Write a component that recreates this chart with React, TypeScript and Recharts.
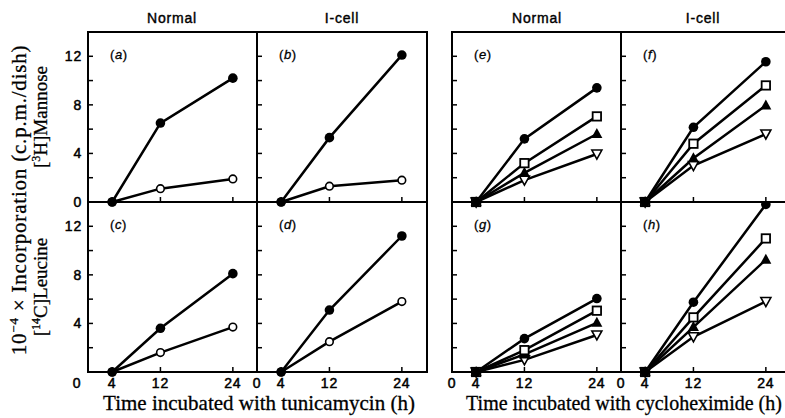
import { LineChart, Line, XAxis, YAxis } from 'recharts'

// time points (h)
const hours = [4, 12, 24]
const xTicks = [0, 4, 12, 24]
const yTicks = [0, 2, 4, 6, 8, 10, 12]

// tunicamycin: filled = control, open = + tunicamycin
const aFilled = [0, 6.5, 10.2]
const aOpen = [0, 1.1, 1.9]
const bFilled = [0, 5.3, 12.1]
const bOpen = [0, 1.3, 1.8]
const cFilled = [0, 3.6, 8.1]
const cOpen = [0, 1.6, 3.7]
const dFilled = [0, 5.1, 11.2]
const dOpen = [0, 2.5, 5.8]

// cycloheximide: circle, square, triangle up, triangle down
const eCircle = [0, 5.2, 9.4]
const eSquare = [0, 3.2, 7.05]
const eTriUp = [0, 2.4, 5.6]
const eTriDown = [0, 1.8, 3.95]
const fCircle = [0, 6.15, 11.55]
const fSquare = [0, 4.8, 9.6]
const fTriUp = [0, 3.6, 7.95]
const fTriDown = [0, 3.0, 5.6]
const gCircle = [0, 2.75, 6.05]
const gSquare = [0, 1.8, 5.05]
const gTriUp = [0, 1.45, 4.05]
const gTriDown = [0, 1.0, 3.05]
const hCircle = [0, 5.75, 13.8]
const hSquare = [0, 4.5, 11.0]
const hTriUp = [0, 3.7, 9.25]
const hTriDown = [0, 2.9, 5.8]

const SANS = '"Liberation Sans", Arial, sans-serif'
const SERIF = '"Liberation Serif", "Times New Roman", serif'

const YW = 40
const XH = 30
const PW = 169
const PH = 170

type Shape = 'disc' | 'ring' | 'square' | 'triUp' | 'triDown'

const dotFor = (shape: Shape) => (props: any) => {
  const { cx, cy, index } = props
  const k = `${shape}-${index}`
  if (cx == null || cy == null) return <g key={k} />
  if (shape === 'disc') return <circle key={k} cx={cx} cy={cy} r={4.8} fill="#000" />
  if (shape === 'ring') return <circle key={k} cx={cx} cy={cy} r={3.8} fill="#fff" stroke="#000" strokeWidth={1.6} />
  if (shape === 'square')
    return <rect key={k} x={cx - 4.2} y={cy - 4.2} width={8.4} height={8.4} fill="#fff" stroke="#000" strokeWidth={1.8} />
  if (shape === 'triUp')
    return <polygon key={k} points={`${cx},${cy - 6} ${cx - 5.5},${cy + 4} ${cx + 5.5},${cy + 4}`} fill="#000" />
  return (
    <polygon key={k} points={`${cx - 5},${cy - 4} ${cx + 5},${cy - 4} ${cx},${cy + 5}`} fill="#fff" stroke="#000" strokeWidth={1.6} />
  )
}

type Series = { values: number[]; shape: Shape }

function Panel({
  left,
  top,
  letter,
  series,
  yLabels,
  xLabels,
  zeroShift = 0,
}: {
  left: number
  top: number
  letter: string
  series: Series[]
  yLabels?: number[]
  xLabels?: boolean
  zeroShift?: number
}) {
  const data = hours.map((h, i) => {
    const row: any = { h }
    series.forEach((s, j) => (row['s' + j] = s.values[i]))
    return row
  })

  const yTick = ({ x, y, payload }: any) => (
    <g>
      {payload.value > 0 && <line x1={x} x2={x + 5} y1={y} y2={y} stroke="#000" strokeWidth={1.5} />}
      {yLabels && yLabels.includes(payload.value) && (
        <text
          x={x - 6}
          y={y}
          dy="0.36em"
          textAnchor="end"
          fontFamily={SANS}
          fontSize={14}
          fill="#000"
          stroke="#000"
          strokeWidth={0.5}
          letterSpacing={0.8}
        >
          {payload.value}
        </text>
      )}
    </g>
  )

  const xTick = ({ x, y, payload }: any) => (
    <g>
      {payload.value > 0 && <line x1={x} x2={x} y1={y} y2={y - 5} stroke="#000" strokeWidth={1.5} />}
      {xLabels && (
        <text
          x={x + (payload.value === 0 ? zeroShift : 0)}
          y={y + 16}
          textAnchor="middle"
          fontFamily={SANS}
          fontSize={14}
          fill="#000"
          stroke="#000"
          strokeWidth={0.5}
          letterSpacing={0.8}
        >
          {payload.value}
        </text>
      )}
    </g>
  )

  return (
    <div style={{ position: 'absolute', left: left - YW, top, width: YW + PW, height: PH + XH }}>
      <LineChart width={YW + PW} height={PH + XH} data={data} margin={{ top: 0, right: 0, bottom: 0, left: 0 }}>
        <XAxis
          dataKey="h"
          type="number"
          domain={[0, 28]}
          ticks={xTicks}
          height={XH}
          axisLine={false}
          tickLine={false}
          tickSize={0}
          tickMargin={0}
          tick={xTick}
          interval={0}
        />
        <YAxis
          type="number"
          domain={[0, 14]}
          ticks={yTicks}
          width={YW}
          axisLine={false}
          tickLine={false}
          tickSize={0}
          tickMargin={0}
          tick={yTick}
          interval={0}
        />
        {series.map((s, j) => (
          <Line
            key={j}
            dataKey={'s' + j}
            stroke="#000"
            strokeWidth={2.5}
            type="linear"
            dot={dotFor(s.shape)}
            activeDot={false}
            isAnimationActive={false}
          />
        ))}
      </LineChart>
      <div
        style={{
          position: 'absolute',
          left: YW + 22,
          top: 15,
          fontFamily: SANS,
          fontSize: 13,
          letterSpacing: 0.6,
          color: '#000',
          WebkitTextStroke: '0.3px #000',
        }}
      >
        (<i>{letter}</i>)
      </div>
    </div>
  )
}

const tunic = (filled: number[], open: number[]): Series[] => [
  { values: open, shape: 'ring' },
  { values: filled, shape: 'disc' },
]
const cyclo = (c: number[], s: number[], u: number[], d: number[]): Series[] => [
  { values: d, shape: 'triDown' },
  { values: u, shape: 'triUp' },
  { values: s, shape: 'square' },
  { values: c, shape: 'disc' },
]

export default function App() {
  const colL = [88, 257]
  const colR = [452, 621]
  const rows = [32, 202]
  return (
    <div style={{ position: 'absolute', left: 0, top: 0, width: 785, height: 418, overflow: 'hidden', background: '#fff' }}>
      <Panel left={colL[0]} top={rows[0]} letter="a" series={tunic(aFilled, aOpen)} yLabels={[0, 4, 8, 12]} />
      <Panel left={colL[1]} top={rows[0]} letter="b" series={tunic(bFilled, bOpen)} />
      <Panel left={colL[0]} top={rows[1]} letter="c" series={tunic(cFilled, cOpen)} yLabels={[4, 8, 12]} xLabels zeroShift={-11} />
      <Panel left={colL[1]} top={rows[1]} letter="d" series={tunic(dFilled, dOpen)} xLabels />
      <Panel left={colR[0]} top={rows[0]} letter="e" series={cyclo(eCircle, eSquare, eTriUp, eTriDown)} />
      <Panel left={colR[1]} top={rows[0]} letter="f" series={cyclo(fCircle, fSquare, fTriUp, fTriDown)} />
      <Panel left={colR[0]} top={rows[1]} letter="g" series={cyclo(gCircle, gSquare, gTriUp, gTriDown)} xLabels />
      <Panel left={colR[1]} top={rows[1]} letter="h" series={cyclo(hCircle, hSquare, hTriUp, hTriDown)} xLabels />

      <svg width={785} height={418} style={{ position: 'absolute', left: 0, top: 0, pointerEvents: 'none' }}>
        {/* frames */}
        <g stroke="#000" strokeWidth={2} fill="none">
          <rect x={88} y={32} width={339} height={340} />
          <line x1={257} x2={257} y1={32} y2={372} />
          <line x1={88} x2={427} y1={202} y2={202} />
          <rect x={452} y={32} width={338} height={340} />
          <line x1={621} x2={621} y1={32} y2={372} />
          <line x1={452} x2={790} y1={202} y2={202} />
        </g>

        {/* column headers */}
        <g fontFamily={SANS} fontSize={14} letterSpacing={0.8} textAnchor="middle" fill="#000" stroke="#000" strokeWidth={0.4}>
          <text x={172} y={23}>Normal</text>
          <text x={342} y={23}>I-cell</text>
          <text x={537} y={23}>Normal</text>
          <text x={703} y={23}>I-cell</text>
        </g>

        {/* axis titles */}
        <g fontFamily={SERIF} fill="#000" stroke="#000" strokeWidth={0.3}>
          <text x={259} y={410} fontSize={21} textAnchor="middle">
            Time incubated with tunicamycin (h)
          </text>
          <text x={624} y={410} fontSize={20} textAnchor="middle">
            Time incubated with cycloheximide (h)
          </text>
          <text transform="translate(26,200) rotate(-90)" fontSize={21} letterSpacing={0.8} textAnchor="middle">
            10<tspan dy={-8} fontSize={13}>−4</tspan>
            <tspan dy={8}> × Incorporation (c.p.m./dish)</tspan>
          </text>
          <text transform="translate(47,117) rotate(-90)" fontSize={19} textAnchor="middle">
            [<tspan dy={-7} fontSize={12}>3</tspan>
            <tspan dy={7}>H]Mannose</tspan>
          </text>
          <text transform="translate(47,287) rotate(-90)" fontSize={19} textAnchor="middle">
            [<tspan dy={-7} fontSize={12}>14</tspan>
            <tspan dy={7}>C]Leucine</tspan>
          </text>
        </g>
      </svg>
    </div>
  )
}
